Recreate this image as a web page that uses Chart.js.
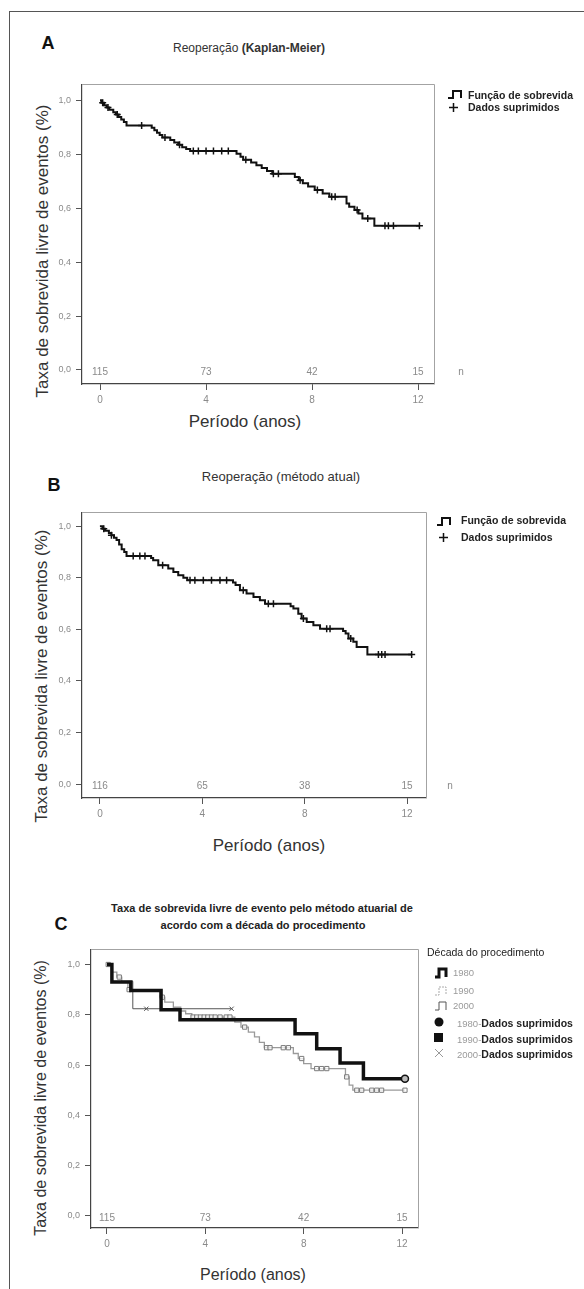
<!DOCTYPE html>
<html lang="pt">
<head>
<meta charset="utf-8">
<title>Reoperação - sobrevida livre de eventos</title>
<script src="https://cdn.jsdelivr.net/npm/chart.js@4.4.1/dist/chart.umd.min.js"></script>
<style>
  html, body { margin: 0; padding: 0; background: #fff; }
  body { position: relative; width: 584px; height: 1289px; overflow: hidden;
         font-family: "Liberation Sans", Arial, sans-serif; color: #222; }
  .frame { position: absolute; left: 9px; top: 11px; width: 640px; height: 1320px;
           border-left: 1px solid #555; border-top: 1px solid #555; }
  .t { position: absolute; white-space: nowrap; line-height: 1; }
  .c { transform: translate(-50%, -50%); }
  .l { transform: translateY(-50%); }
  .rot { transform: translate(-50%, -50%) rotate(-90deg); }
  .panel { position: absolute; }
  .letter { font-weight: bold; font-size: 18px; color: #111; }
  .axt { font-size: 17px; color: #333; }
  .leg { font-size: 10.5px; font-weight: bold; color: #222; }
  .leg-light { font-size: 9.5px; color: #9a9a9a; }
  svg { position: absolute; overflow: visible; }
</style>
</head>
<body>
<div class="frame"></div>

<!-- Panel A -->
<div class="t c letter" style="left:48px;top:43px">A</div>
<div class="t c" style="left:249px;top:48px;font-size:12px;color:#333">Reoperação <b>(Kaplan-Meier)</b></div>
<div class="t rot axt" style="left:42px;top:251px">Taxa de sobrevida livre de eventos (%)</div>
<div class="t c axt" style="left:245px;top:421px">Período (anos)</div>
<div class="panel" style="left:42px;top:74px;width:442px;height:340px"><canvas id="chartA"></canvas></div>
<svg style="left:448px;top:90px" width="15" height="9"><path d="M0,8 H5 V1 H13 V8" fill="none" stroke="#111" stroke-width="2"/></svg>
<div class="t l leg" style="left:468px;top:95px">Função de sobrevida</div>
<svg style="left:449px;top:103px" width="9" height="9"><path d="M4.5,0 V9 M0,4.5 H9" stroke="#111" stroke-width="1.5"/></svg>
<div class="t l leg" style="left:468px;top:107px">Dados suprimidos</div>

<!-- Panel B -->
<div class="t c letter" style="left:54px;top:485px">B</div>
<div class="t c" style="left:281px;top:476px;font-size:13px;color:#333">Reoperação (método atual)</div>
<div class="t rot axt" style="left:41px;top:676px">Taxa de sobrevida livre de eventos (%)</div>
<div class="t c axt" style="left:269px;top:845px">Período (anos)</div>
<div class="panel" style="left:42px;top:502px;width:434px;height:326px"><canvas id="chartB"></canvas></div>
<svg style="left:437px;top:517px" width="15" height="9"><path d="M0,8 H5 V1 H13 V8" fill="none" stroke="#111" stroke-width="2"/></svg>
<div class="t l leg" style="left:461px;top:520px">Função de sobrevida</div>
<svg style="left:439px;top:533px" width="9" height="9"><path d="M4.5,0 V9 M0,4.5 H9" stroke="#111" stroke-width="1.5"/></svg>
<div class="t l leg" style="left:461px;top:537px">Dados suprimidos</div>

<!-- Panel C -->
<div class="t c letter" style="left:61px;top:924px">C</div>
<div class="t c" style="left:262px;top:908px;font-size:11px;font-weight:bold;color:#222">Taxa de sobrevida livre de evento pelo método atuarial de</div>
<div class="t c" style="left:263px;top:925px;font-size:11px;font-weight:bold;color:#222">acordo com a década do procedimento</div>
<div class="t rot" style="left:41px;top:1098px;font-size:16px;color:#333">Taxa de sobrevida livre de eventos (%)</div>
<div class="t c" style="left:253px;top:1275px;font-size:16px;color:#333">Período (anos)</div>
<div class="panel" style="left:51px;top:939px;width:417px;height:319px"><canvas id="chartC"></canvas></div>
<div class="t l" style="left:427px;top:952px;font-size:10.5px;color:#222">Década do procedimento</div>
<svg style="left:435px;top:968px" width="13" height="10"><path d="M0,9 H4 V1 H11 V9" fill="none" stroke="#111" stroke-width="3"/></svg>
<div class="t l leg-light" style="left:453px;top:973px">1980</div>
<svg style="left:435px;top:986px" width="13" height="10"><path d="M0,9 H4 V1 H11 V9" fill="none" stroke="#aaa" stroke-width="1" stroke-dasharray="2,1"/></svg>
<div class="t l leg-light" style="left:453px;top:991px">1990</div>
<svg style="left:435px;top:1001px" width="13" height="10"><path d="M0,9 H4 V1 H11 V9" fill="none" stroke="#555" stroke-width="1"/></svg>
<div class="t l leg-light" style="left:453px;top:1006px">2000</div>
<svg style="left:434px;top:1017px" width="10" height="10"><circle cx="5" cy="5" r="4.5" fill="#111"/></svg>
<div class="t l" style="left:457px;top:1022px"><span class="leg-light">1980-</span><span class="leg">Dados suprimidos</span></div>
<svg style="left:434px;top:1033px" width="10" height="10"><rect x="0" y="0" width="9" height="9" fill="#111"/></svg>
<div class="t l" style="left:457px;top:1038px"><span class="leg-light">1990-</span><span class="leg">Dados suprimidos</span></div>
<svg style="left:435px;top:1049px" width="8" height="8"><path d="M0,0 L8,8 M8,0 L0,8" stroke="#999" stroke-width="1"/></svg>
<div class="t l" style="left:457px;top:1053px"><span class="leg-light">2000-</span><span class="leg">Dados suprimidos</span></div>

<script>
// =============================================================================
// Data (time in years, survival as fraction)
// =============================================================================

const xTicks = [0, 4, 8, 12];
const yTicks = [0, 0.2, 0.4, 0.6, 0.8, 1.0];
const riskTimes = [0, 4, 8, 12];

// A - Reoperação (Kaplan-Meier)
const aTime = [0, 0.05, 0.15, 0.25, 0.35, 0.5, 0.6, 0.7, 0.8, 0.9, 1.0,
    1.95, 2.05, 2.15, 2.25, 2.35, 2.65, 2.8, 2.95, 3.1, 3.25, 3.4,
    5.15, 5.3, 5.4, 5.7, 5.9, 6.1, 6.3, 6.5,
    7.35, 7.5, 7.65, 7.85, 8.1, 8.4, 8.65,
    9.3, 9.4, 9.6, 9.75, 9.9, 10.35, 12.05];
const aSurv = [1, 0.991, 0.982, 0.973, 0.965, 0.956, 0.947, 0.938, 0.929, 0.92, 0.907,
    0.898, 0.889, 0.88, 0.871, 0.862, 0.853, 0.844, 0.835, 0.826, 0.819, 0.812,
    0.802, 0.791, 0.78, 0.769, 0.759, 0.749, 0.738, 0.728,
    0.716, 0.704, 0.692, 0.68, 0.667, 0.654, 0.642,
    0.617, 0.605, 0.593, 0.58, 0.562, 0.535, 0.535];
const aCensored = [0.1, 0.3, 0.65, 1.57, 2.45, 3.0, 3.52, 3.71, 4.0, 4.28, 4.59, 4.84,
    5.5, 6.54, 6.73, 7.55, 8.2, 8.74, 8.87, 9.7, 10.1, 10.75, 10.88, 11.07, 12.05];
const aRiskCounts = [115, 73, 42, 15];

// B - Reoperação (método atual)
const bTime = [0, 0.1, 0.2, 0.35, 0.45, 0.55, 0.65, 0.75, 0.85, 0.95, 1.04,
    2.0, 2.08, 2.28, 2.67, 2.87, 3.06, 3.26, 3.41,
    5.2, 5.3, 5.47, 5.73, 6.0, 6.25, 6.45,
    7.45, 7.56, 7.75, 7.88, 8.08, 8.34, 8.6,
    9.5, 9.6, 9.71, 9.9, 10.03, 10.45, 12.18];
const bSurv = [1, 0.991, 0.983, 0.974, 0.965, 0.956, 0.947, 0.929, 0.911, 0.9, 0.885,
    0.877, 0.868, 0.849, 0.836, 0.823, 0.81, 0.8, 0.791,
    0.782, 0.772, 0.752, 0.739, 0.726, 0.713, 0.7,
    0.69, 0.681, 0.661, 0.642, 0.629, 0.616, 0.603,
    0.594, 0.584, 0.565, 0.552, 0.532, 0.503, 0.503];
const bCensored = [0.15, 0.45, 1.3, 1.56, 1.76, 2.45, 3.52, 3.71, 4.04, 4.36, 4.69, 4.95,
    5.6, 6.58, 6.78, 7.95, 8.86, 8.99, 9.8, 10.88, 11.01, 11.14, 12.18];
const bRiskCounts = [116, 65, 38, 15];

// C - método atuarial por década do procedimento
const c1980Time = [0, 0.2, 0.97, 2.2, 2.97, 7.65, 8.53, 9.48, 10.43, 12.12];
const c1980Surv = [1, 0.93, 0.897, 0.82, 0.78, 0.725, 0.665, 0.608, 0.546, 0.546];
const c1980Censored = [12.12];

const c1990Time = [0, 0.2, 0.4, 0.6, 0.85, 2.15, 2.35, 2.7, 3.0, 3.2, 3.45,
    5.2, 5.45, 5.75, 6.0, 6.2, 6.4, 7.58, 7.78, 8.0, 8.3, 9.7, 9.85, 10.0, 12.12];
const c1990Surv = [1, 0.97, 0.95, 0.93, 0.9, 0.87, 0.85, 0.83, 0.815, 0.804, 0.791,
    0.771, 0.751, 0.731, 0.712, 0.69, 0.669, 0.646, 0.626, 0.606, 0.586, 0.553, 0.52, 0.5, 0.5];
const c1990Censored = [0.05, 0.5, 0.9, 2.25, 3.5, 3.65, 3.8, 3.95, 4.1, 4.25, 4.4, 4.6, 4.85, 5.0,
    5.6, 6.49, 6.63, 7.17, 7.38, 7.92, 8.53, 8.73, 8.94, 9.75, 10.16, 10.36, 10.77, 10.97, 11.17, 12.12];

const c2000Time = [0, 0.2, 1.05, 5.07];
const c2000Surv = [1, 0.933, 0.824, 0.824];
const c2000Censored = [1.6, 5.07];
const cRiskCounts = [115, 73, 42, 15];

// =============================================================================
// Helpers
// =============================================================================

const FONT = '"Liberation Sans", Arial, sans-serif';

// value of the step function at time t
function survivalAt(times, surv, t) {
    let s = surv[0];
    for (let i = 0; i < times.length; i++) {
        if (times[i] <= t) s = surv[i];
    }
    return s;
}

function stepPoints(times, surv) {
    return times.map((t, i) => ({ x: t, y: surv[i] }));
}

function censorPoints(times, surv, censored) {
    return censored.map(t => ({ x: t, y: survivalAt(times, surv, t) }));
}

// light top/right frame + "numbers at risk" row on the 0,0 line
function riskTable(counts, showN, nOffset) {
    return {
        id: 'riskTable',
        afterDraw(chart) {
            const { ctx, chartArea: area, scales } = chart;
            ctx.save();
            ctx.strokeStyle = '#a3a3a3';
            ctx.lineWidth = 1;
            ctx.beginPath();
            ctx.moveTo(area.left, Math.round(area.top) + 0.5);
            ctx.lineTo(Math.round(area.right) + 0.5, Math.round(area.top) + 0.5);
            ctx.lineTo(Math.round(area.right) + 0.5, area.bottom);
            ctx.stroke();

            ctx.font = '10px ' + FONT;
            ctx.fillStyle = '#8a8a8a';
            ctx.textAlign = 'center';
            ctx.textBaseline = 'middle';
            const yPix = scales.y.getPixelForValue(0) + 2;
            riskTimes.forEach((t, i) => {
                ctx.fillText(String(counts[i]), scales.x.getPixelForValue(t), yPix);
            });
            if (showN) ctx.fillText('n', area.right + nOffset, yPix);
            ctx.restore();
        }
    };
}

function makeSurvivalChart(canvasId, cfg) {
    const ctx = document.getElementById(canvasId)?.getContext('2d');
    if (!ctx) throw new Error(`Canvas element not found: ${canvasId}`);

    return new Chart(ctx, {
        type: 'line',
        data: { datasets: cfg.datasets },
        options: {
            responsive: true,
            maintainAspectRatio: false,
            animation: false,
            events: [],
            layout: { padding: { top: 10, right: 50, left: 0, bottom: 0 } },
            plugins: { legend: { display: false }, tooltip: { enabled: false } },
            scales: {
                x: {
                    type: 'linear',
                    min: cfg.xMin,
                    max: cfg.xMax,
                    afterBuildTicks: axis => { axis.ticks = xTicks.map(v => ({ value: v })); },
                    afterFit: axis => { axis.height = 30; },
                    grid: { drawOnChartArea: false, drawTicks: true, tickLength: 6, color: '#555' },
                    border: { display: true, color: '#444', width: 1.2 },
                    ticks: { font: { size: 10, family: FONT }, color: '#8a8a8a', padding: 4,
                             maxRotation: 0, autoSkip: false, callback: v => String(v) }
                },
                y: {
                    type: 'linear',
                    min: cfg.yMin,
                    max: cfg.yMax,
                    afterBuildTicks: axis => { axis.ticks = yTicks.map(v => ({ value: v })); },
                    afterFit: axis => { axis.width = 40; },
                    grid: { drawOnChartArea: false, drawTicks: true, tickLength: 6, color: '#555' },
                    border: { display: true, color: '#444', width: 1.2 },
                    ticks: { font: { size: 9, family: FONT }, color: '#8a8a8a', padding: 5,
                             autoSkip: false, callback: v => v.toFixed(1).replace('.', ',') }
                }
            }
        },
        plugins: [riskTable(cfg.riskCounts, cfg.showN, cfg.nOffset)]
    });
}

// 'before' = hold the previous level until the event time, then drop
function kmDatasets(times, surv, censored) {
    return [
        { label: 'Dados suprimidos', data: censorPoints(times, surv, censored), showLine: false,
          pointStyle: 'cross', pointRadius: 3.5, pointBorderWidth: 1.5, borderColor: '#111', order: 0 },
        { label: 'Função de sobrevida', data: stepPoints(times, surv), stepped: 'before',
          borderColor: '#111', borderWidth: 2, pointRadius: 0, fill: false, order: 1 }
    ];
}

// =============================================================================
// Charts
// =============================================================================

makeSurvivalChart('chartA', {
    xMin: -0.68, xMax: 12.6, yMin: -0.052, yMax: 1.059,
    datasets: kmDatasets(aTime, aSurv, aCensored),
    riskCounts: aRiskCounts, showN: true, nOffset: 27
});

makeSurvivalChart('chartB', {
    xMin: -0.7, xMax: 12.74, yMin: -0.054, yMax: 1.054,
    datasets: kmDatasets(bTime, bSurv, bCensored),
    riskCounts: bRiskCounts, showN: true, nOffset: 24
});

makeSurvivalChart('chartC', {
    xMin: -0.65, xMax: 12.65, yMin: -0.048, yMax: 1.06,
    datasets: [
        { label: '1980-Dados suprimidos', data: censorPoints(c1980Time, c1980Surv, c1980Censored), showLine: false,
          pointStyle: 'circle', pointRadius: 3.5, pointBorderWidth: 1.5, borderColor: '#111',
          backgroundColor: '#bbb', order: 0 },
        { label: '1980', data: stepPoints(c1980Time, c1980Surv), stepped: 'before',
          borderColor: '#111', borderWidth: 3.5, pointRadius: 0, fill: false, order: 1 },
        { label: '2000-Dados suprimidos', data: censorPoints(c2000Time, c2000Surv, c2000Censored), showLine: false,
          pointStyle: 'crossRot', pointRadius: 3, pointBorderWidth: 1, borderColor: '#555', order: 2 },
        { label: '2000', data: stepPoints(c2000Time, c2000Surv), stepped: 'before',
          borderColor: '#555', borderWidth: 1, pointRadius: 0, fill: false, order: 3 },
        { label: '1990-Dados suprimidos', data: censorPoints(c1990Time, c1990Surv, c1990Censored), showLine: false,
          pointStyle: 'rect', pointRadius: 3, pointBorderWidth: 1, borderColor: '#7a7a7a',
          backgroundColor: 'rgba(255,255,255,0.7)', order: 4 },
        { label: '1990', data: stepPoints(c1990Time, c1990Surv), stepped: 'before',
          borderColor: '#9a9a9a', borderWidth: 1.3, pointRadius: 0, fill: false, order: 5 }
    ],
    riskCounts: cRiskCounts, showN: false, nOffset: 0
});
</script>
</body>
</html>
